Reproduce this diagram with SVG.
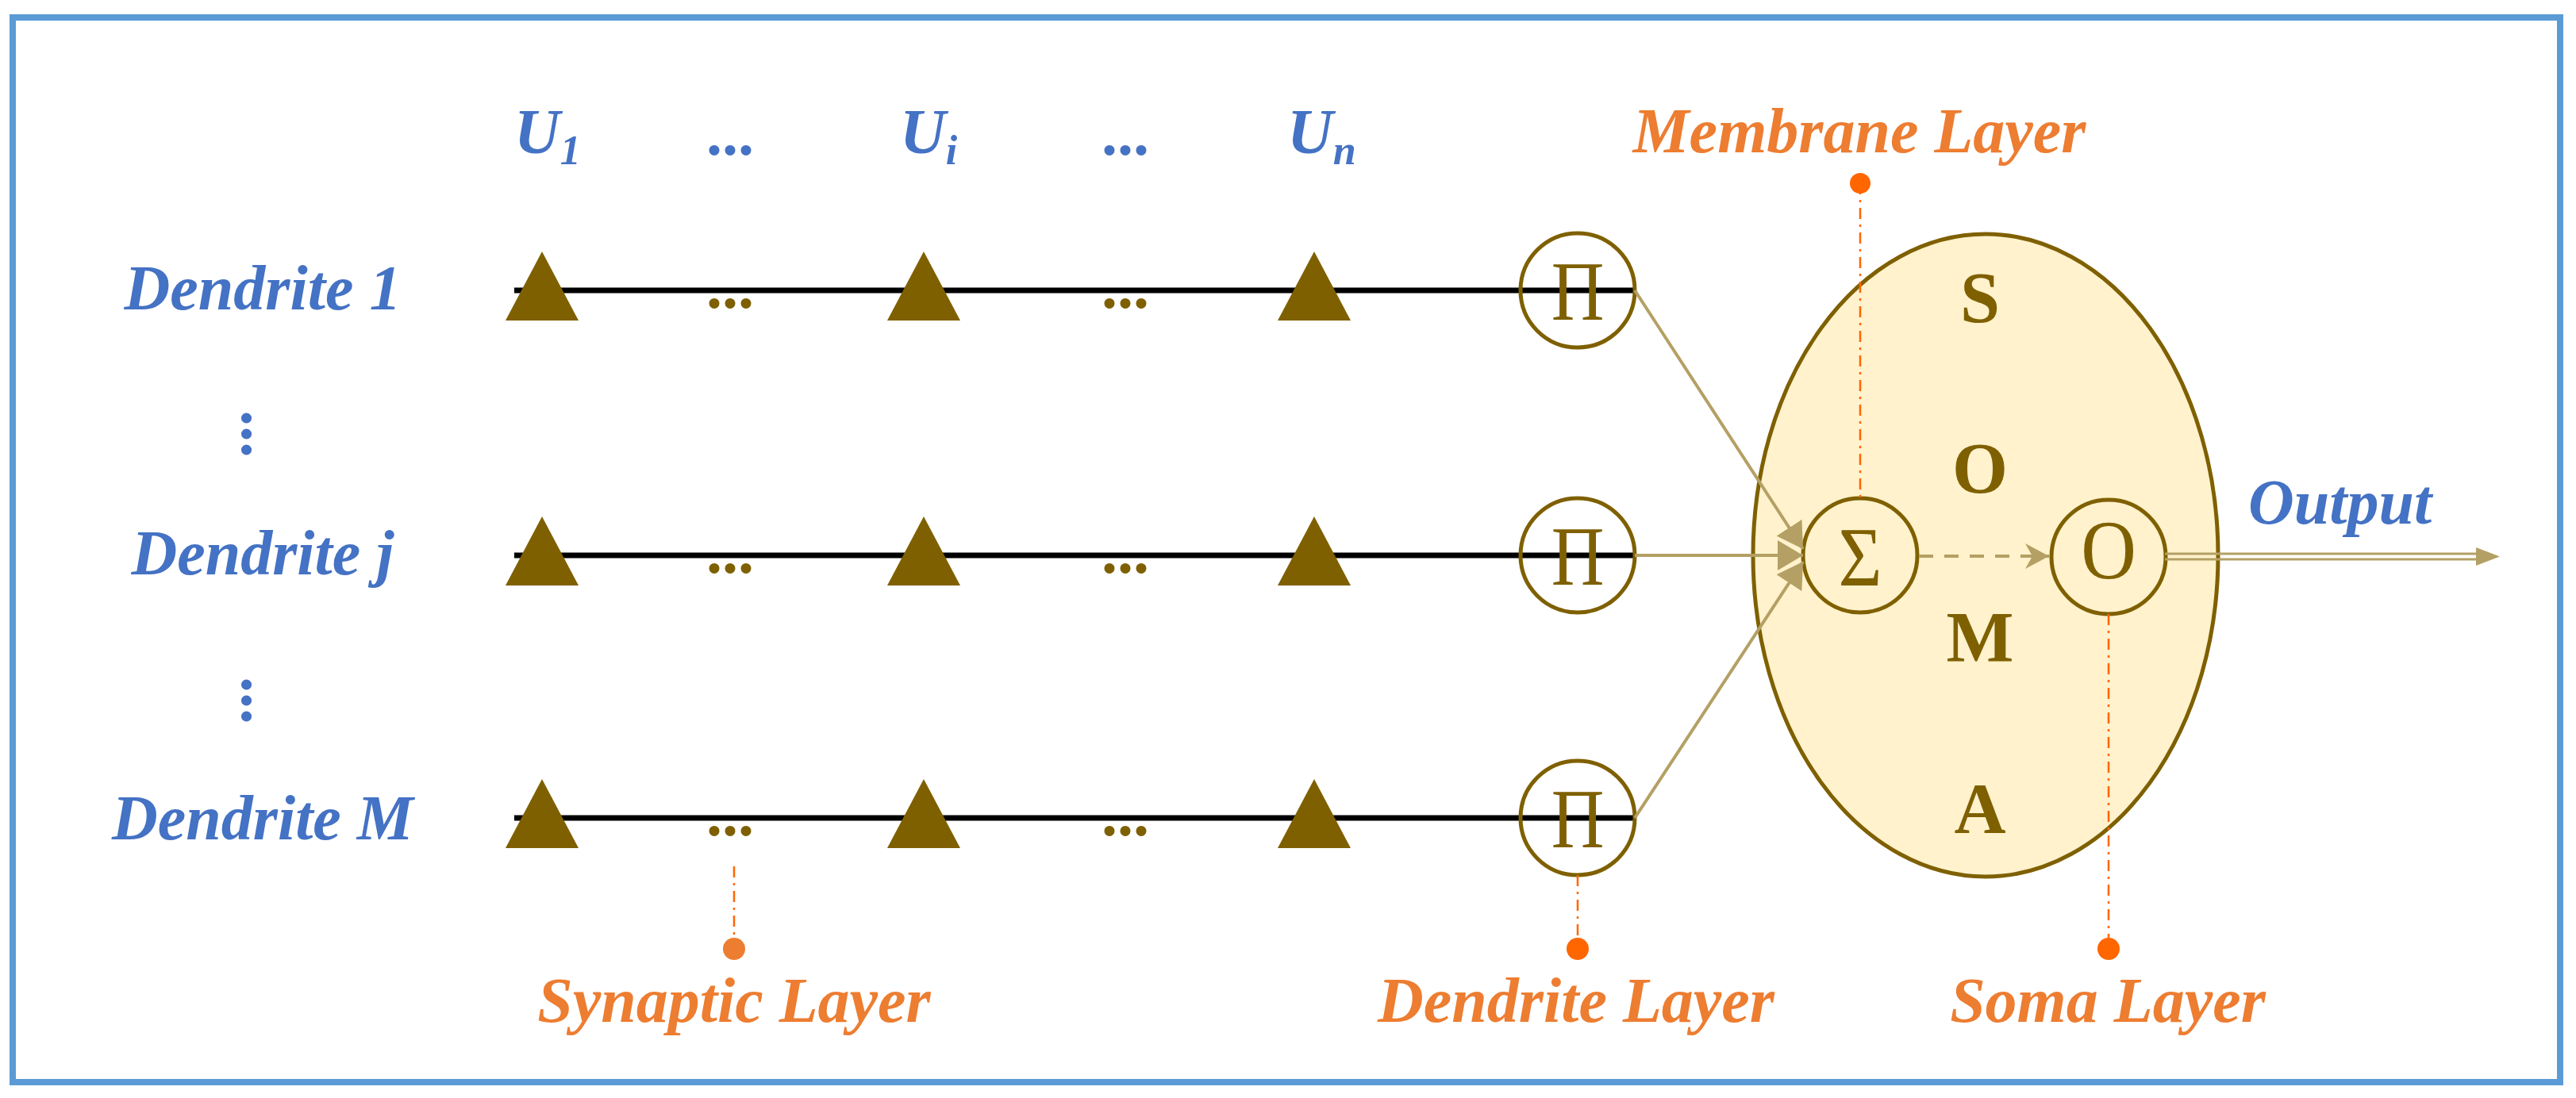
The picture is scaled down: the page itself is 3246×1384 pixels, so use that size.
<svg xmlns="http://www.w3.org/2000/svg" width="3246" height="1384" viewBox="0 0 3246 1384">
<style>
.t{font-family:"Liberation Serif","Times New Roman",serif;font-weight:bold;font-style:italic;font-size:80px}
.blue{fill:#4472C4}
.orange{fill:#ED7D31}
.mid{text-anchor:middle}
.soma{font-family:"Liberation Serif","Times New Roman",serif;font-weight:bold;font-size:90px;fill:#7F6000;text-anchor:middle}
.sym{font-family:"Liberation Serif","Times New Roman",serif;font-size:105px;fill:#7F6000;text-anchor:middle}
.dots{font-family:"Liberation Serif","Times New Roman",serif;font-weight:bold;font-size:80px;text-anchor:middle}
.brown{fill:#7F6000}
.tri{fill:#7F6000}
.axon{stroke:#000;stroke-width:7}
.node{fill:none;stroke:#7F6000;stroke-width:5}
.conn{stroke:#B4A064;stroke-width:4;fill:none}
.lead{stroke:#FF6600;stroke-width:2.5;stroke-dasharray:14 7 3 7;fill:none}
</style>
<defs>
<marker id="ah" markerUnits="userSpaceOnUse" markerWidth="34" markerHeight="38" refX="32" refY="19" orient="auto">
<path d="M0,0 L32,19 L0,38 Z" fill="#B4A064"/>
</marker>
<marker id="sh" markerUnits="userSpaceOnUse" markerWidth="32" markerHeight="32" refX="30" refY="16" orient="auto">
<path d="M0,0 L30,16 L0,32 L9,16 Z" fill="#B4A064"/>
</marker>
</defs>
<rect x="0" y="0" width="3246" height="1384" fill="#fff"/>
<rect x="16" y="22" width="3210" height="1342" fill="none" stroke="#5B9BD5" stroke-width="8"/>

<g id="input-labels">
<text class="t blue" x="648" y="193">U<tspan font-size="52" dy="14">1</tspan></text>
<text class="t blue" x="1134" y="193">U<tspan font-size="52" dy="14">i</tspan></text>
<text class="t blue" x="1622" y="193">U<tspan font-size="52" dy="14">n</tspan></text>
<text class="dots blue" x="920" y="195">...</text>
<text class="dots blue" x="1418" y="195">...</text>
</g>

<g id="dendrite-labels">
<text class="t blue mid" x="331" y="390">Dendrite 1</text>
<text class="t blue mid" x="331" y="724">Dendrite j</text>
<text class="t blue mid" x="331" y="1058">Dendrite M</text>
<text class="dots blue" transform="translate(305,547) rotate(90)" x="0" y="0">...</text>
<text class="dots blue" transform="translate(305,883) rotate(90)" x="0" y="0">...</text>
</g>

<g id="dendrite-1">
<line class="axon" x1="648" y1="366" x2="2060" y2="366"/>
<polygon class="tri" points="683,317 637,404 729,404"/>
<polygon class="tri" points="1164,317 1118,404 1210,404"/>
<polygon class="tri" points="1656,317 1610,404 1702,404"/>
<text class="dots brown" x="920" y="388">...</text>
<text class="dots brown" x="1418" y="388">...</text>
</g>
<g id="dendrite-j">
<line class="axon" x1="648" y1="700" x2="2060" y2="700"/>
<polygon class="tri" points="683,651 637,738 729,738"/>
<polygon class="tri" points="1164,651 1118,738 1210,738"/>
<polygon class="tri" points="1656,651 1610,738 1702,738"/>
<text class="dots brown" x="920" y="722">...</text>
<text class="dots brown" x="1418" y="722">...</text>
</g>
<g id="dendrite-M">
<line class="axon" x1="648" y1="1031" x2="2060" y2="1031"/>
<polygon class="tri" points="683,982 637,1069 729,1069"/>
<polygon class="tri" points="1164,982 1118,1069 1210,1069"/>
<polygon class="tri" points="1656,982 1610,1069 1702,1069"/>
<text class="dots brown" x="920" y="1053">...</text>
<text class="dots brown" x="1418" y="1053">...</text>
</g>

<g id="pi-1"><circle class="node" cx="1988" cy="366" r="72"/><text class="sym" transform="translate(1988,403) scale(0.88,1)" x="0" y="0">Π</text></g>
<g id="pi-j"><circle class="node" cx="1988" cy="700" r="72"/><text class="sym" transform="translate(1988,737) scale(0.88,1)" x="0" y="0">Π</text></g>
<g id="pi-M"><circle class="node" cx="1988" cy="1031" r="72"/><text class="sym" transform="translate(1988,1068) scale(0.88,1)" x="0" y="0">Π</text></g>

<g id="soma">
<ellipse cx="2502" cy="700" rx="293" ry="405" fill="#FFF2CC" stroke="#7F6000" stroke-width="5"/>
<text class="soma" x="2495" y="406">S</text>
<text class="soma" x="2495" y="621">O</text>
<text class="soma" x="2495" y="834">M</text>
<text class="soma" x="2495" y="1050">A</text>
</g>
<g id="sigma"><circle class="node" cx="2344" cy="700" r="72"/><text class="sym" transform="translate(2344,738) scale(0.9,1)" x="0" y="0">Σ</text></g>
<g id="out-node"><circle class="node" cx="2657" cy="702" r="72"/><text class="sym" transform="translate(2657,729) scale(0.92,1)" x="0" y="0" font-size="80">O</text></g>

<g id="connectors">
<line class="conn" x1="2060" y1="366" x2="2272" y2="692" marker-end="url(#ah)"/>
<line class="conn" x1="2060" y1="700" x2="2272" y2="700" marker-end="url(#ah)"/>
<line class="conn" x1="2060" y1="1031" x2="2272" y2="708" marker-end="url(#ah)"/>
<line class="conn" x1="2418" y1="701" x2="2582" y2="701" stroke-width="5" stroke-dasharray="18 14" marker-end="url(#sh)"/>
<line x1="2728" y1="698" x2="3124" y2="698" stroke="#B4A064" stroke-width="3"/>
<line x1="2728" y1="705" x2="3124" y2="705" stroke="#B4A064" stroke-width="3"/>
<polygon points="3120,690 3150,701.5 3120,713" fill="#B4A064"/>
</g>

<text class="t blue" x="2833" y="660">Output</text>

<g id="layer-labels">
<line class="lead" x1="2344" y1="231" x2="2344" y2="628"/>
<circle cx="2344" cy="231" r="13" fill="#FF6600"/>
<text class="t orange mid" x="2343" y="192">Membrane Layer</text>
<line class="lead" x1="925" y1="1092" x2="925" y2="1196" stroke="#ED7D31"/>
<circle cx="925" cy="1196" r="14" fill="#ED7D31"/>
<text class="t orange mid" x="925" y="1288">Synaptic Layer</text>
<line class="lead" x1="1988" y1="1103" x2="1988" y2="1196"/>
<circle cx="1988" cy="1196" r="14" fill="#FF6600"/>
<text class="t orange mid" x="1986" y="1288">Dendrite Layer</text>
<line class="lead" x1="2657" y1="774" x2="2657" y2="1196"/>
<circle cx="2657" cy="1196" r="14" fill="#FF6600"/>
<text class="t orange mid" x="2656" y="1288">Soma Layer</text>
</g>
</svg>
